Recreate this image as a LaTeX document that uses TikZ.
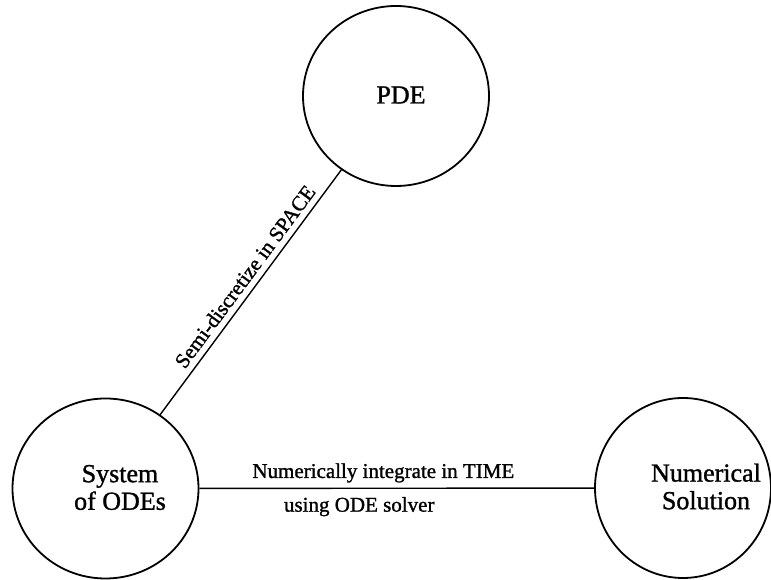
\documentclass[tikz,border=0pt]{standalone}
\usepackage{fontspec}
\setmainfont{Liberation Serif}[FakeBold=1.2]
\usetikzlibrary{shapes.geometric}
\begin{document}
\begin{tikzpicture}[x=1pt,y=1pt,
  bubble/.style={draw, ellipse, line width=1.8pt, inner sep=0pt, minimum width=186pt, minimum height=180pt},
  bubbletext/.style={font=\fontsize{26}{27.6}\selectfont, align=center},
  link/.style={line width=1.4pt},
  lbl/.style={font=\fontsize{21}{24}\selectfont, inner sep=0pt}]
\useasboundingbox (0,0) rectangle (771,580);
\clip (0,0) rectangle (771,580);
\node[bubble] (pde) at (396,484) {};
\node[bubble] (ode) at (105.5,91.5) {};
\node[bubble, minimum width=176pt] (num) at (683,92) {};
\node[bubbletext] (pdet) at (401,485) {PDE};
\node[bubbletext] (odet) at (120,92.5) {System\\of ODEs};
\node[bubbletext] (numt) at (706,93.5) {Numerical\\Solution};
\draw[link] (ode) -- node[lbl, pos=0.53, sloped, above=6pt] (l1) {Semi-discretize in SPACE} (pde);
\draw[link] (ode) -- node[lbl, pos=0.466, anchor=base, yshift=10.3pt] (l2) {Numerically integrate in TIME}
                     node[lbl, pos=0.405, anchor=base, yshift=-23.4pt] (l3) {using ODE solver} (num);
\end{tikzpicture}
\end{document}
